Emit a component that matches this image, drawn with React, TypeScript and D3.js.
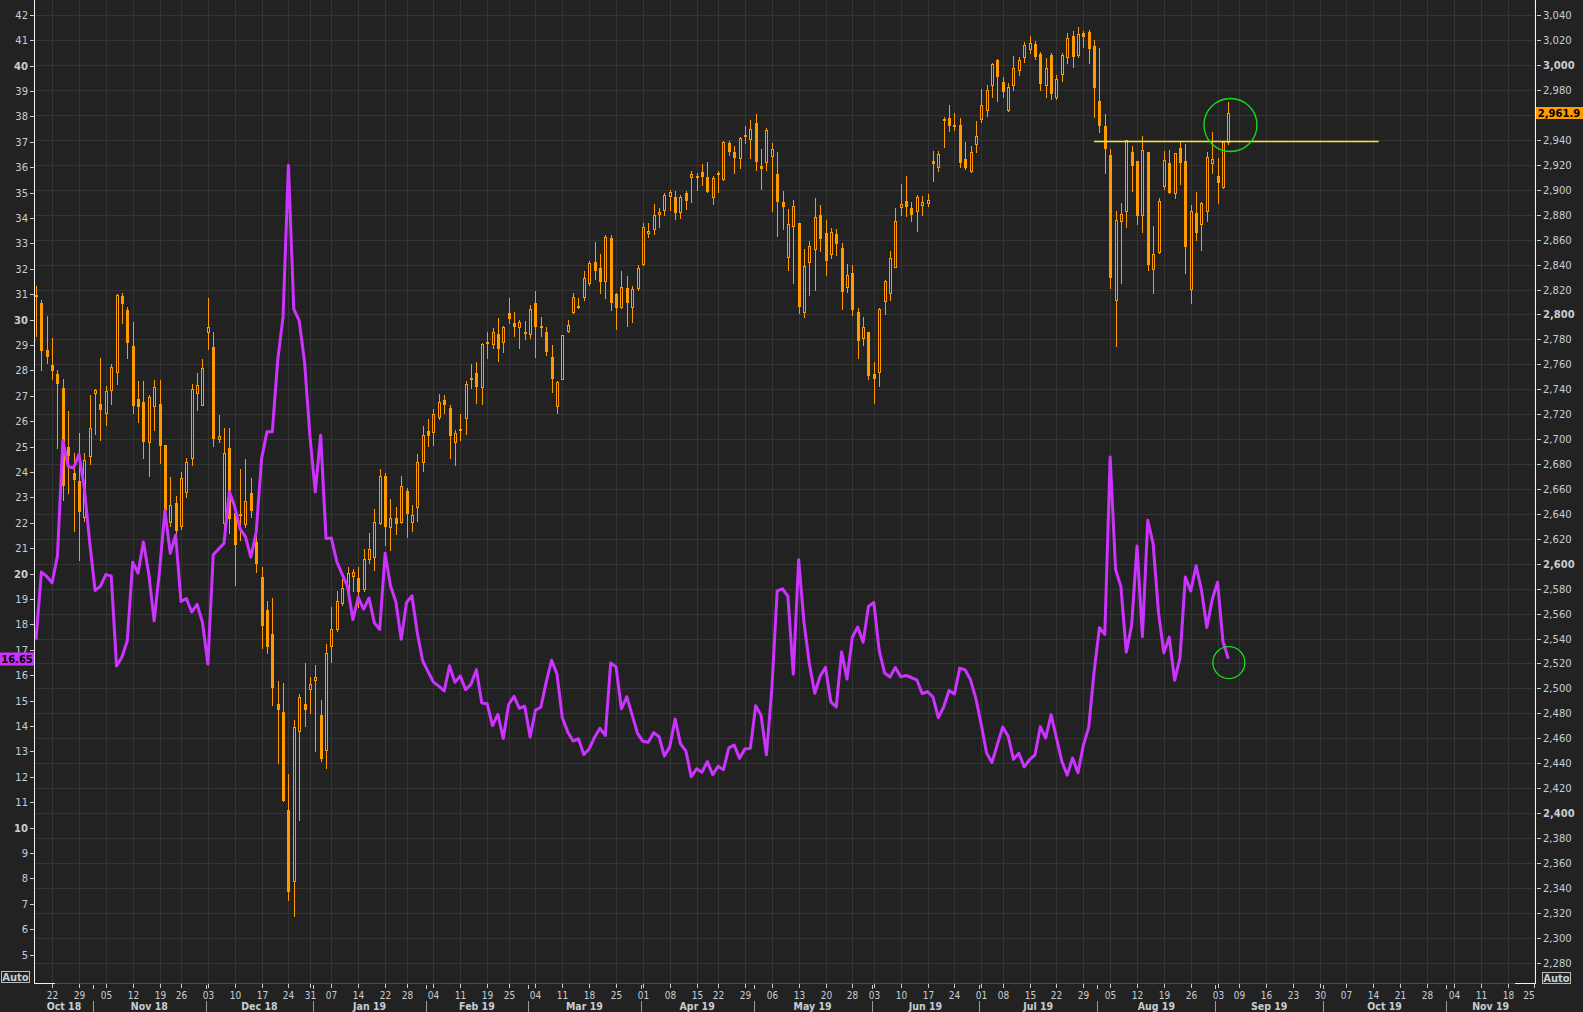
import React from 'react';
import * as d3 from 'd3';

const W = 1583;
const H = 1012;
const PLOT_L = 35;
const PLOT_R = 1535;
const PLOT_B = 983;

// Futures trading calendar (slots on the x axis)
const HOLIDAYS = [
  '2018-11-22', '2018-12-25', '2019-01-01', '2019-01-21', '2019-02-18',
  '2019-04-19', '2019-05-27', '2019-07-04', '2019-09-02', '2019-11-28',
];
const CAL_START = '2018-10-17';
const CAL_END = '2019-11-29';

// S&P 500 e-mini daily candles, first slot = 2018-10-17
const open = [
  2816, 2809, 2771.8, 2759.8, 2752, 2740.8, 2693.5, 2673, 2666, 2637.6, 2686.8, 2737, 2728, 2720.8, 2739, 2753.5,
  2814.7, 2803.4, 2774.8, 2732.5, 2730, 2698, 2726.8, 2728.5, 2695, 2633.6, 2649, 2630, 2657.2, 2684.9, 2737.1, 2727.5,
  2785.7, 2773.8, 2699.8, 2632.6, 2692.5, 2640.9, 2639, 2632, 2656.6, 2617.6, 2589.3, 2562.6, 2544, 2487.4, 2481.4, 2402.8,
  2345.2, 2466, 2487.1, 2499.4, 2507, 2478.4, 2450.4, 2534.4, 2547.7, 2568.3, 2578.5, 2590.2, 2588.3, 2579.5, 2603.6, 2605.7,
  2633, 2670.4, 2629.8, 2636.5, 2633.8, 2658.4, 2633.8, 2645.3, 2681.9, 2706.5, 2705.5, 2718, 2731.4, 2724.7, 2698, 2707.3,
  2716.7, 2748, 2752.8, 2741.6, 2777.4, 2776, 2784, 2778.2, 2800.9, 2792.9, 2789.7, 2786.2, 2784.1, 2809, 2790.8, 2786,
  2765.9, 2726.9, 2748.5, 2786.5, 2801.7, 2806.5, 2814.3, 2825.5, 2842.1, 2837, 2827.1, 2861.1, 2816.4, 2805.7, 2821, 2806.3,
  2821.5, 2840.2, 2865.1, 2868.3, 2880.3, 2883.5, 2895.3, 2894.2, 2882.5, 2897.5, 2910.5, 2911.1, 2914, 2910.3, 2894.5, 2913.5,
  2908.4, 2937.3, 2930.1, 2925.3, 2943.2, 2940.5, 2953.3, 2919.1, 2922, 2927.4, 2912.7, 2890, 2846.4, 2870.7, 2873.4, 2802.3,
  2842.4, 2852.3, 2879.8, 2865.6, 2848.8, 2864.8, 2853.3, 2822.3, 2833.3, 2802, 2780.9, 2785.7, 2752, 2753.6, 2811.1, 2817.5,
  2838.4, 2886.5, 2891, 2885.4, 2883.3, 2888.1, 2889.2, 2923, 2918.6, 2957.1, 2957.7, 2952.1, 2952, 2924.4, 2915.3, 2936.5,
  2957.1, 2964, 2983.8, 3003.8, 2986.7, 2964, 2983.8, 2995.8, 3006.2, 3012.7, 3016.9, 3008.9, 2984.1, 3008.1, 2974.2, 2992.9,
  3006.3, 3023.4, 3008.1, 3025.5, 3026.3, 3015.4, 2971.2, 2951.2, 2927.9, 2811.6, 2874.7, 2883.2, 2930.3, 2923.1, 2879.8, 2930,
  2836.2, 2850.4, 2903.3, 2921.2, 2897.1, 2933.8, 2923.1, 2820.1, 2881.1, 2872.3, 2883.3, 2921.8, 2911.1, 2902, 2938.1,
];
const high = [
  2823, 2811.7, 2799, 2780.8, 2755.8, 2748.5, 2722.5, 2689, 2705, 2689, 2735, 2740, 2765, 2742.5, 2760, 2816.4,
  2817.4, 2805.7, 2793.7, 2746.5, 2746.5, 2735, 2747.5, 2747.5, 2695, 2669.2, 2654, 2673.9, 2685.2, 2743.8, 2753.1, 2764.4,
  2813, 2785.7, 2719, 2708.5, 2708.5, 2645.9, 2675.9, 2684.2, 2668.5, 2629.3, 2597.6, 2570, 2572.6, 2506, 2504.4, 2431,
  2474.4, 2495.4, 2520, 2509.4, 2518.4, 2490.4, 2536, 2565.3, 2578.3, 2587.6, 2597.7, 2595.6, 2597.7, 2611.6, 2624.4, 2643.7,
  2676, 2672.6, 2651.7, 2645.3, 2670.4, 2660.5, 2647.2, 2688.1, 2710.5, 2715.9, 2724.2, 2736.2, 2735.4, 2727.4, 2707.3, 2720.2,
  2746.6, 2760.3, 2761.6, 2777.4, 2786, 2789.2, 2796.9, 2790.8, 2813, 2801.7, 2795.6, 2795, 2807.3, 2818.8, 2798, 2789.7,
  2775.5, 2746.4, 2783.3, 2795.6, 2817, 2813, 2834.9, 2842.9, 2858.2, 2848.5, 2863.8, 2863.8, 2817.5, 2834.9, 2830.9, 2822.9,
  2839.7, 2873.1, 2873, 2888.6, 2885.6, 2897.2, 2899.6, 2899, 2895.8, 2899, 2915, 2913.5, 2920.7, 2922.6, 2911.1, 2915,
  2939.2, 2939.4, 2935.2, 2942.6, 2951.2, 2956, 2960.8, 2932.7, 2949.3, 2937.3, 2930, 2899, 2884.6, 2891.8, 2873.4, 2852.5,
  2859.2, 2893.2, 2887.8, 2875.8, 2869.1, 2868.6, 2857.6, 2840.7, 2839.7, 2804.9, 2797.7, 2785.7, 2762.2, 2805.5, 2827.7, 2851.2,
  2885.6, 2904.7, 2911, 2890.5, 2895.8, 2895, 2896.6, 2931.1, 2931.1, 2958.4, 2968, 2961.3, 2957.3, 2938, 2935.1, 2955.2,
  2980.8, 2983.8, 3002, 3004.6, 2990.7, 2985.4, 3007.3, 3006.2, 3018.3, 3023.4, 3019.4, 3010.8, 3006, 3009.5, 2992.1, 3009.5,
  3025.5, 3027.6, 3030.3, 3027.4, 3028.2, 3020.2, 3013.5, 2960.5, 2932.7, 2883, 2889.7, 2940, 2935.1, 2923.1, 2943.1, 2930,
  2871, 2893.1, 2931.1, 2931.9, 2929.8, 2938.6, 2936.7, 2887.8, 2898.5, 2890.5, 2930.6, 2946.6, 2925.8, 2938.6, 2970.7,
];
const low = [
  2783, 2755.8, 2760.8, 2748.5, 2692.5, 2650.9, 2656.6, 2626, 2602.6, 2634, 2680, 2704, 2699, 2711.5, 2728.5, 2743.8,
  2793.4, 2764.8, 2720.8, 2713.5, 2684.9, 2670, 2707.5, 2680.6, 2632.6, 2630.6, 2624.3, 2627.6, 2653.6, 2679.2, 2723.2, 2727.5,
  2772.4, 2694.5, 2697.8, 2629.3, 2624.3, 2582.6, 2619.3, 2629.3, 2637.6, 2593.3, 2532, 2528.7, 2486.7, 2440, 2409.5, 2330,
  2317, 2394.5, 2470, 2480, 2449.4, 2441.8, 2436, 2521, 2546, 2567, 2575, 2578.2, 2565.6, 2578.5, 2600.9, 2595,
  2631.7, 2615.1, 2611, 2623.9, 2633, 2621.8, 2626.6, 2634.6, 2674.7, 2694.5, 2695.3, 2715.9, 2720.7, 2685.1, 2679.3, 2699.3,
  2704.1, 2740.8, 2729.3, 2728, 2765.4, 2772.8, 2763, 2770.2, 2793.4, 2782.7, 2773.4, 2780.3, 2781.4, 2766.2, 2783, 2767.2,
  2738.1, 2721.2, 2748.5, 2786, 2801.5, 2805.5, 2811.6, 2823.4, 2828.7, 2817.5, 2813, 2803.6, 2788.6, 2805, 2791, 2794.2,
  2819.6, 2839.7, 2862.4, 2864.6, 2870.4, 2879.8, 2883.8, 2876.6, 2877.7, 2884.6, 2890.5, 2899.9, 2903.9, 2898, 2888.9, 2898,
  2907.6, 2927.9, 2913.8, 2917.2, 2937.8, 2925.8, 2916.2, 2900.7, 2915.9, 2883.3, 2863.2, 2868.6, 2835.7, 2825.5, 2801.4, 2798.2,
  2815.6, 2819.6, 2850.9, 2831.7, 2845.6, 2847.7, 2804.4, 2818.3, 2799.6, 2764.8, 2775.5, 2748.2, 2728.7, 2742.9, 2800.4, 2811.6,
  2838.4, 2879.8, 2879.3, 2875, 2867, 2879.8, 2887, 2907.1, 2915.1, 2934.4, 2947, 2948, 2918.6, 2916.4, 2914.5, 2930.6,
  2954.6, 2959.5, 2974.2, 2971.5, 2974.7, 2963.5, 2980.1, 2992.1, 3002.8, 3010, 3004.6, 2980.1, 2974.7, 2972.6, 2972.6, 2987.5,
  3002, 2998.2, 3006.3, 3014.8, 3002, 2958.7, 2946.6, 2913.7, 2821, 2775, 2825, 2870.4, 2899.3, 2872.6, 2866.4, 2835.6,
  2817.5, 2849, 2900.4, 2897.1, 2893.1, 2904.4, 2833.5, 2809.4, 2859.7, 2851.7, 2875, 2913.7, 2889.1, 2901.2, 2936.7,
];
const close = [
  2815, 2771, 2765.8, 2754.8, 2744, 2662.6, 2686.5, 2667, 2641.6, 2683.5, 2709.2, 2739, 2723, 2738.5, 2757.5, 2815.7,
  2808, 2777.4, 2726.5, 2725.8, 2697.5, 2733.5, 2741.5, 2694.5, 2642.6, 2647.2, 2626.6, 2668.5, 2681.9, 2740.2, 2743.1, 2757.1,
  2789.7, 2699.8, 2702.6, 2689.2, 2636, 2615.3, 2640, 2650.6, 2642.6, 2600, 2550, 2533.3, 2500.4, 2482.7, 2410, 2337,
  2469.4, 2492.7, 2482.7, 2503.4, 2509, 2443.7, 2528.7, 2547.7, 2570.3, 2580.3, 2592.4, 2593.7, 2577.6, 2603.6, 2611.6, 2633.3,
  2670.4, 2629.8, 2636.5, 2632, 2662.4, 2640, 2638.9, 2681.4, 2703.3, 2702.8, 2720.2, 2729.5, 2727.4, 2702.8, 2704.6, 2708.3,
  2744, 2749, 2742.1, 2776, 2778.2, 2785.7, 2772.6, 2790.2, 2796.1, 2790.2, 2794.2, 2784.1, 2804.1, 2790.2, 2789.4, 2770.2,
  2748.5, 2745.6, 2783.3, 2791.3, 2813.8, 2805.7, 2829, 2841, 2835.2, 2826.3, 2861.9, 2809.5, 2805.5, 2822.3, 2809.5, 2820.2,
  2837, 2869.9, 2867, 2879.8, 2881.9, 2895.8, 2898, 2881.7, 2894, 2891, 2912.7, 2909.2, 2910.3, 2898.5, 2909.2, 2912,
  2938.1, 2930.6, 2925.8, 2941.3, 2943.8, 2948.5, 2922.6, 2916.7, 2948, 2932.5, 2890, 2886.5, 2872.6, 2887, 2806.3, 2838.9,
  2854.9, 2877.9, 2860.5, 2843.2, 2866.2, 2856.5, 2818.3, 2831.7, 2803.6, 2779, 2789.9, 2750.9, 2748.2, 2804.4, 2826.8, 2845,
  2875, 2888.6, 2886.2, 2879.8, 2894, 2890.2, 2891.8, 2920.7, 2928.5, 2955.7, 2951.5, 2951.3, 2921.8, 2917.2, 2930.6, 2943.4,
  2967.8, 2979.8, 3000.6, 2990.2, 2978.2, 2982.2, 2997.4, 3003.8, 3016.1, 3017.5, 3006.8, 2984.6, 2997.4, 2976.6, 2988.6, 3008.1,
  3021.5, 3006.3, 3024.7, 3022.3, 3012.7, 2981.9, 2951.4, 2932.5, 2829, 2875.8, 2880.6, 2940, 2919.3, 2879.2, 2931.9, 2839.6,
  2848.5, 2891, 2923.9, 2897.7, 2929.2, 2921.8, 2854.4, 2883, 2865, 2889.7, 2926.6, 2924.4, 2905.2, 2938.1, 2961.9,
];

// VIX daily closes, same slots (no print on 2018-12-05)
const vix = [
  17.4, 20.06, 19.89, 19.64, 20.71, 25.23, 24.22, 24.16, 24.7, 23.35, 21.23, 19.34, 19.51, 19.96, 19.91, 16.36,
  16.72, 17.36, 20.45, 20.02, 21.25, 19.98, 18.14, 20.1, 22.48, 20.8, 21.52, 18.9, 19.02, 18.49, 18.79, 18.07,
  16.44, 20.74, null, 21.19, 23.23, 22.64, 21.76, 21.46, 20.65, 21.63, 24.52, 25.58, 25.58, 28.38, 30.11, 36.07,
  30.41, 29.96, 28.34, 25.42, 23.22, 25.45, 21.38, 21.4, 20.47, 19.98, 19.5, 18.19, 19.07, 18.6, 19.04, 18.06,
  17.8, 20.8, 19.52, 18.89, 17.42, 18.87, 19.13, 17.66, 16.57, 16.14, 15.73, 15.57, 15.38, 16.37, 15.72, 15.97,
  15.43, 15.65, 16.22, 14.91, 14.88, 14.02, 14.46, 13.51, 14.85, 15.17, 14.7, 14.78, 13.57, 14.63, 14.74, 15.74,
  16.59, 16.05, 14.33, 13.77, 13.41, 13.5, 12.88, 13.1, 13.56, 13.91, 13.63, 16.48, 16.33, 14.68, 15.15, 14.43,
  13.71, 13.4, 13.36, 13.74, 13.58, 12.82, 13.18, 14.28, 13.3, 13.02, 12.01, 12.32, 12.18, 12.6, 12.09, 12.42,
  12.28, 13.14, 13.25, 12.73, 13.11, 13.12, 14.8, 14.42, 12.87, 15.44, 19.32, 19.4, 19.1, 16.04, 20.55, 18.06,
  16.44, 15.29, 15.96, 16.31, 14.95, 14.75, 16.92, 15.85, 17.5, 17.9, 17.3, 18.71, 18.86, 16.97, 16.09, 15.93,
  16.3, 15.94, 15.99, 15.91, 15.82, 15.28, 15.35, 15.15, 14.33, 14.75, 15.4, 15.26, 16.28, 16.21, 15.82, 15.08,
  14.06, 12.93, 12.57, 13.28, 13.96, 13.6, 12.69, 12.93, 12.39, 12.68, 12.86, 13.97, 13.53, 14.45, 13.53, 12.61,
  12.07, 12.74, 12.16, 13.24, 13.94, 16.12, 17.87, 17.61, 24.59, 20.17, 19.49, 16.91, 17.97, 21.09, 17.52, 22.1,
  21.18, 18.47, 16.88, 17.5, 15.8, 16.68, 19.87, 19.32, 20.31, 19.35, 17.88, 18.98, 19.66, 17.33, 16.65,
];

const vixTicks = [5, 6, 7, 8, 9, 10, 11, 12, 13, 14, 15, 16, 17, 18, 19, 20, 21, 22, 23, 24, 25, 26, 27, 28, 29, 30, 31, 32, 33, 34, 35, 36, 37, 38, 39, 40, 41, 42];
const vixBold = [10, 20, 30, 40];
const spxTicks = [
  2280, 2300, 2320, 2340, 2360, 2380, 2400, 2420, 2440, 2460, 2480, 2500, 2520, 2540, 2560, 2580, 2600, 2620, 2640, 2660,
  2680, 2700, 2720, 2740, 2760, 2780, 2800, 2820, 2840, 2860, 2880, 2900, 2920, 2940, 2960, 2980, 3000, 3020, 3040,
];
const spxBold = [2400, 2600, 2800, 3000];

// annotations
const levelLine = { from: '2019-07-31', to: '2019-10-15', value: 2939 };
const circleSpx = { date: '2019-09-05', value: 2952, r: 26.5 };
const circleVix = { date: '2019-09-05', value: 16.5, r: 16 };
const lastVix = 16.65;
const lastSpx = 2961.9;

const TEXT = '#c9cdd2';
const ORANGE = '#ff9a00';
const VIOLET = '#cc33ff';
const BG = '#222222';
const GRID = '#343434';

function buildSlots(): Date[] {
  const parse = d3.utcParse('%Y-%m-%d');
  const fmt = d3.utcFormat('%Y-%m-%d');
  const hol = new Set(HOLIDAYS);
  const days = d3.utcDay.range(parse(CAL_START)!, d3.utcDay.offset(parse(CAL_END)!, 1));
  return days.filter((d) => d.getUTCDay() !== 0 && d.getUTCDay() !== 6 && !hol.has(fmt(d)));
}

export default function App() {
  const slots = buildSlots();
  const fmt = d3.utcFormat('%Y-%m-%d');
  const slotIndex = new Map(slots.map((d, i) => [fmt(d), i]));

  const x = d3.scaleLinear().domain([-0.186, 279.1]).range([PLOT_L, PLOT_R]);
  const yV = d3.scaleLinear().domain([42, 5]).range([14.7, 954.7]);
  const yS = d3.scaleLinear().domain([3040, 2280]).range([15.3, 962.6]);

  // week starts & month starts
  const weekStarts: number[] = [];
  const monthStarts: number[] = [];
  slots.forEach((d, i) => {
    if (i === 0) return;
    const prev = slots[i - 1];
    if (d3.utcMonday.floor(d).getTime() !== d3.utcMonday.floor(prev).getTime()) weekStarts.push(i);
    if (d.getUTCMonth() !== prev.getUTCMonth()) monthStarts.push(i);
  });
  const inRange = (px: number) => px >= PLOT_L - 0.5 && px <= PLOT_R + 0.5;
  const monthBounds = monthStarts.map((i) => x(i - 0.4));
  const monthLabels: { text: string; cx: number }[] = [];
  const edges = [PLOT_L, ...monthBounds.filter(inRange), PLOT_R];
  const firstMonthIdx = [0, ...monthStarts.filter((i) => inRange(x(i - 0.4)))];
  for (let m = 0; m < edges.length - 1; m++) {
    monthLabels.push({ text: d3.utcFormat('%b %y')(slots[firstMonthIdx[m]]), cx: (edges[m] + edges[m + 1]) / 2 });
  }

  const vixPts: [number, number][] = [];
  vix.forEach((v, i) => {
    if (v != null) vixPts.push([i, v]);
  });
  const vixLine = d3
    .line<[number, number]>()
    .x((d) => x(d[0]))
    .y((d) => yV(d[1]));

  const lvFrom = x(slotIndex.get(levelLine.from)!);
  const lvTo = x(slotIndex.get(levelLine.to)!);
  const c1x = x(slotIndex.get(circleSpx.date)! + 0.4);
  const c2x = x(slotIndex.get(circleVix.date)! + 0.1);

  const tagSpxY = Math.round(yS(lastSpx));
  const tagVixY = Math.round(yV(lastVix));

  const font = "'DejaVu Sans', Verdana, sans-serif";
  const condFont = "'DejaVu Sans Condensed', 'DejaVu Sans', sans-serif";

  return (
    <svg
      width={W}
      height={H}
      style={{ position: 'absolute', left: 0, top: 0, display: 'block', background: BG }}
    >
      <rect x={0} y={0} width={W} height={H} fill={BG} />
      {/* grid */}
      <g shapeRendering="crispEdges">
        {spxTicks.map((t) => (
          <line key={'hg' + t} x1={PLOT_L} x2={PLOT_R} y1={Math.round(yS(t)) + 0.5} y2={Math.round(yS(t)) + 0.5} stroke={GRID} />
        ))}
        {weekStarts
          .filter((i) => inRange(x(i)))
          .map((i) => {
            const px = Math.round(x(i)) + 0.5;
            const yearEdge = slots[i].getUTCFullYear() !== slots[i - 1].getUTCFullYear();
            return (
              <line key={'vg' + i} x1={px} x2={px} y1={0} y2={PLOT_B} stroke={yearEdge ? '#3a3a3a' : GRID} strokeWidth={yearEdge ? 2 : 1} />
            );
          })}
      </g>

      {/* candles */}
      <g shapeRendering="crispEdges">
        {open.map((o, i) => {
          const c = close[i];
          const cx = Math.round(x(i));
          const yH = Math.round(yS(high[i]));
          const yL = Math.round(yS(low[i]));
          const yO = Math.round(yS(o));
          const yC = Math.round(yS(c));
          const top = Math.min(yO, yC);
          const bot = Math.max(yO, yC);
          const up = c > o;
          return (
            <g key={'c' + i}>
              <line x1={cx + 0.5} x2={cx + 0.5} y1={yH} y2={yL + 1} stroke={ORANGE} />
              {up ? (
                <rect x={cx - 0.5} y={top + 0.5} width={2} height={Math.max(bot - top, 1)} fill={BG} stroke={ORANGE} />
              ) : (
                <rect x={cx - 1} y={top} width={3} height={Math.max(bot - top, 2)} fill={ORANGE} />
              )}
            </g>
          );
        })}
      </g>

      {/* VIX line */}
      <path d={vixLine(vixPts) || ''} fill="none" stroke={VIOLET} strokeWidth={3} strokeLinejoin="round" />

      {/* level line & circles */}
      <line x1={lvFrom} x2={lvTo} y1={Math.round(yS(levelLine.value)) + 0.5} y2={Math.round(yS(levelLine.value)) + 0.5} stroke="#f2e83a" strokeWidth={1.3} />
      <circle cx={c1x} cy={yS(circleSpx.value)} r={circleSpx.r} fill="none" stroke="#16e016" strokeWidth={1.3} />
      <circle cx={c2x} cy={yV(circleVix.value)} r={circleVix.r} fill="none" stroke="#16e016" strokeWidth={1.3} />

      {/* axes lines */}
      <g shapeRendering="crispEdges">
        <line x1={PLOT_L - 0.5} x2={PLOT_L - 0.5} y1={0} y2={PLOT_B} stroke="#f0f0f0" />
        <line x1={PLOT_R + 0.5} x2={PLOT_R + 0.5} y1={0} y2={PLOT_B} stroke="#f0f0f0" />
        <line x1={PLOT_L} x2={PLOT_R} y1={PLOT_B + 0.5} y2={PLOT_B + 0.5} stroke="#4c4c4c" />
        <line x1={PLOT_L - 1} x2={PLOT_L + 20} y1={PLOT_B + 0.5} y2={PLOT_B + 0.5} stroke="#f0f0f0" />
        <line x1={PLOT_R - 20} x2={PLOT_R + 1} y1={PLOT_B + 0.5} y2={PLOT_B + 0.5} stroke="#f0f0f0" />
      </g>

      {/* left axis */}
      <g fontFamily={font} fontSize={10} fill={TEXT}>
        {vixTicks.map((t) => {
          const yy = Math.round(yV(t)) + 0.5;
          const hidden = Math.abs(yy - tagVixY) < 7;
          return (
            <g key={'lv' + t}>
              <line x1={30} x2={34} y1={yy} y2={yy} stroke={TEXT} shapeRendering="crispEdges" />
              {!hidden && (
                <text x={28} y={yy + 3.6} textAnchor="end" fontWeight={vixBold.includes(t) ? 'bold' : 'normal'}>
                  {t}
                </text>
              )}
            </g>
          );
        })}
      </g>

      {/* right axis */}
      <g fontFamily={font} fontSize={10} fill={TEXT}>
        {spxTicks.map((t) => {
          const yy = Math.round(yS(t)) + 0.5;
          const hidden = Math.abs(yy - tagSpxY) < 9;
          return (
            <g key={'rv' + t}>
              <line x1={1537} x2={1541} y1={yy} y2={yy} stroke={TEXT} shapeRendering="crispEdges" />
              {!hidden && (
                <text x={1543} y={yy + 3.6} fontWeight={spxBold.includes(t) ? 'bold' : 'normal'}>
                  {d3.format(',')(t)}
                </text>
              )}
            </g>
          );
        })}
      </g>

      {/* last value tags */}
      <g>
        <rect x={0} y={tagVixY - 6.5} width={34} height={13} fill={VIOLET} />
        <text x={17} y={tagVixY + 3.5} textAnchor="middle" fontFamily={font} fontSize={10} fontWeight="bold" fill="#000">
          {d3.format('.2f')(lastVix)}
        </text>
        <rect x={1536} y={tagSpxY - 6} width={47} height={12} fill={ORANGE} />
        <text x={1559} y={tagSpxY + 3.8} textAnchor="middle" fontFamily={font} fontSize={10} fontWeight="bold" fill="#000">
          {d3.format(',.1f')(lastSpx)}
        </text>
      </g>

      {/* Auto boxes */}
      <g fontFamily={font} fontSize={10} fontWeight="bold" fill={TEXT}>
        <rect x={1.5} y={971.5} width={28} height={11} fill="none" stroke="#bdbdbd" />
        <text x={15.5} y={980.8} textAnchor="middle">Auto</text>
        <rect x={1542.5} y={972.5} width={28} height={11} fill="none" stroke="#bdbdbd" />
        <text x={1556.5} y={981.8} textAnchor="middle">Auto</text>
      </g>

      {/* bottom axis */}
      <g fontFamily={condFont} fill={TEXT}>
        {weekStarts
          .filter((i) => inRange(x(i)))
          .map((i) => {
            const px = Math.round(x(i)) + 0.5;
            const lx = Math.min(px, PLOT_R - 6);
            return (
              <g key={'wl' + i}>
                <line x1={px} x2={px} y1={984} y2={988} stroke={TEXT} shapeRendering="crispEdges" />
                <text x={lx} y={999} fontSize={10} textAnchor="middle">
                  {d3.utcFormat('%d')(slots[i])}
                </text>
              </g>
            );
          })}
        {monthBounds.filter(inRange).map((b, j) => {
          const px = Math.round(b) + 0.5;
          return (
            <g key={'mb' + j}>
              <line x1={px} x2={px} y1={985} y2={989} stroke={TEXT} shapeRendering="crispEdges" />
              <line x1={px} x2={px} y1={1001} y2={1012} stroke="#9a9a9a" shapeRendering="crispEdges" />
            </g>
          );
        })}
        {monthLabels.map((m, j) => (
          <text key={'ml' + j} x={m.cx} y={1010} fontSize={10.5} fontWeight="bold" textAnchor="middle">
            {m.text}
          </text>
        ))}
      </g>
    </svg>
  );
}
